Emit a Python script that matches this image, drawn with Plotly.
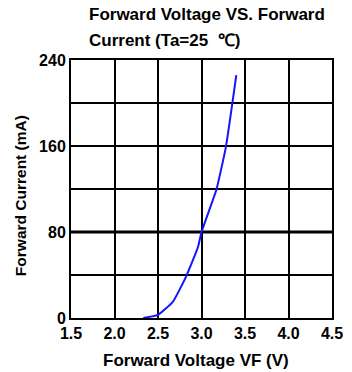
import plotly.graph_objects as go

# Data
voltage = [2.33, 2.50, 2.67, 2.82, 2.96, 3.00, 3.17, 3.28, 3.40]
current = [0, 3, 15, 38, 66, 80, 119, 159, 226]
x_ticks = [1.5, 2.0, 2.5, 3.0, 3.5, 4.0, 4.5]
x_tick_labels = ["1.5", "2.0", "2.5", "3.0", "3.5", "4.0", "4.5"]
y_ticks = [0, 80, 160, 240]
y_tick_labels = ["0", "80", "160", "240"]
title_lines = ["Forward Voltage VS. Forward", "Current (Ta=25  \u2103)"]
x_title = "Forward Voltage VF (V)"
y_title = "Forward Current (mA)"

W, H = 352, 372
L, R, T, B = 71, 9, 60, 54
pw, ph = W - L - R, H - T - B

def px(xp):
    return (xp - L) / pw

def py(yp):
    return (H - B - yp) / ph

FONT = "Liberation Sans, Arial, sans-serif"

fig = go.Figure()
fig.add_trace(go.Scatter(x=voltage, y=current, mode="lines",
                         line=dict(color="#1414ff", width=2, shape="spline", smoothing=0.4),
                         hoverinfo="skip", showlegend=False))

fig.update_xaxes(range=[1.5, 4.5], tickvals=x_ticks, ticktext=x_tick_labels,
                 showgrid=True, gridcolor="black", gridwidth=2,
                 showline=True, linecolor="black", linewidth=2, mirror=True,
                 zeroline=False, ticks="", ticklen=0, ticklabeloverflow="allow",
                 tickfont=dict(family=FONT, size=16, color="black", weight="bold"))
fig.update_yaxes(range=[0, 240], tickvals=y_ticks, ticktext=y_tick_labels,
                 showgrid=False,
                 showline=True, linecolor="black", linewidth=2, mirror=True,
                 zeroline=False, ticks="", ticklen=0, ticklabeloverflow="allow",
                 tickfont=dict(family=FONT, size=16, color="black", weight="bold"))

# horizontal gridlines every 40 mA
for v in [40, 80, 120, 160, 200]:
    fig.add_shape(type="line", xref="paper", x0=0, x1=1, yref="y", y0=v, y1=v,
                  line=dict(color="black", width=3 if v == 80 else 2), layer="below")

ann = []
ann.append(dict(text=title_lines[0], x=px(88), y=py(15), xanchor="left", yanchor="middle", size=17))
ann.append(dict(text=title_lines[1], x=px(88), y=py(40), xanchor="left", yanchor="middle", size=17))
ann.append(dict(text=x_title, x=px(201), y=py(360), xanchor="center", yanchor="middle", size=17))
ann.append(dict(text=y_title, x=px(18), y=py(196), xanchor="center", yanchor="middle",
                textangle=-90, size=15.5))
for a in ann:
    s = a.pop("size")
    a.update(xref="paper", yref="paper", showarrow=False,
             font=dict(family=FONT, size=s, color="black", weight="bold"))
fig.update_layout(width=W, height=H, margin=dict(l=L, r=R, t=T, b=B),
                  paper_bgcolor="white", plot_bgcolor="white", annotations=ann)

fig.write_html("out.html")
